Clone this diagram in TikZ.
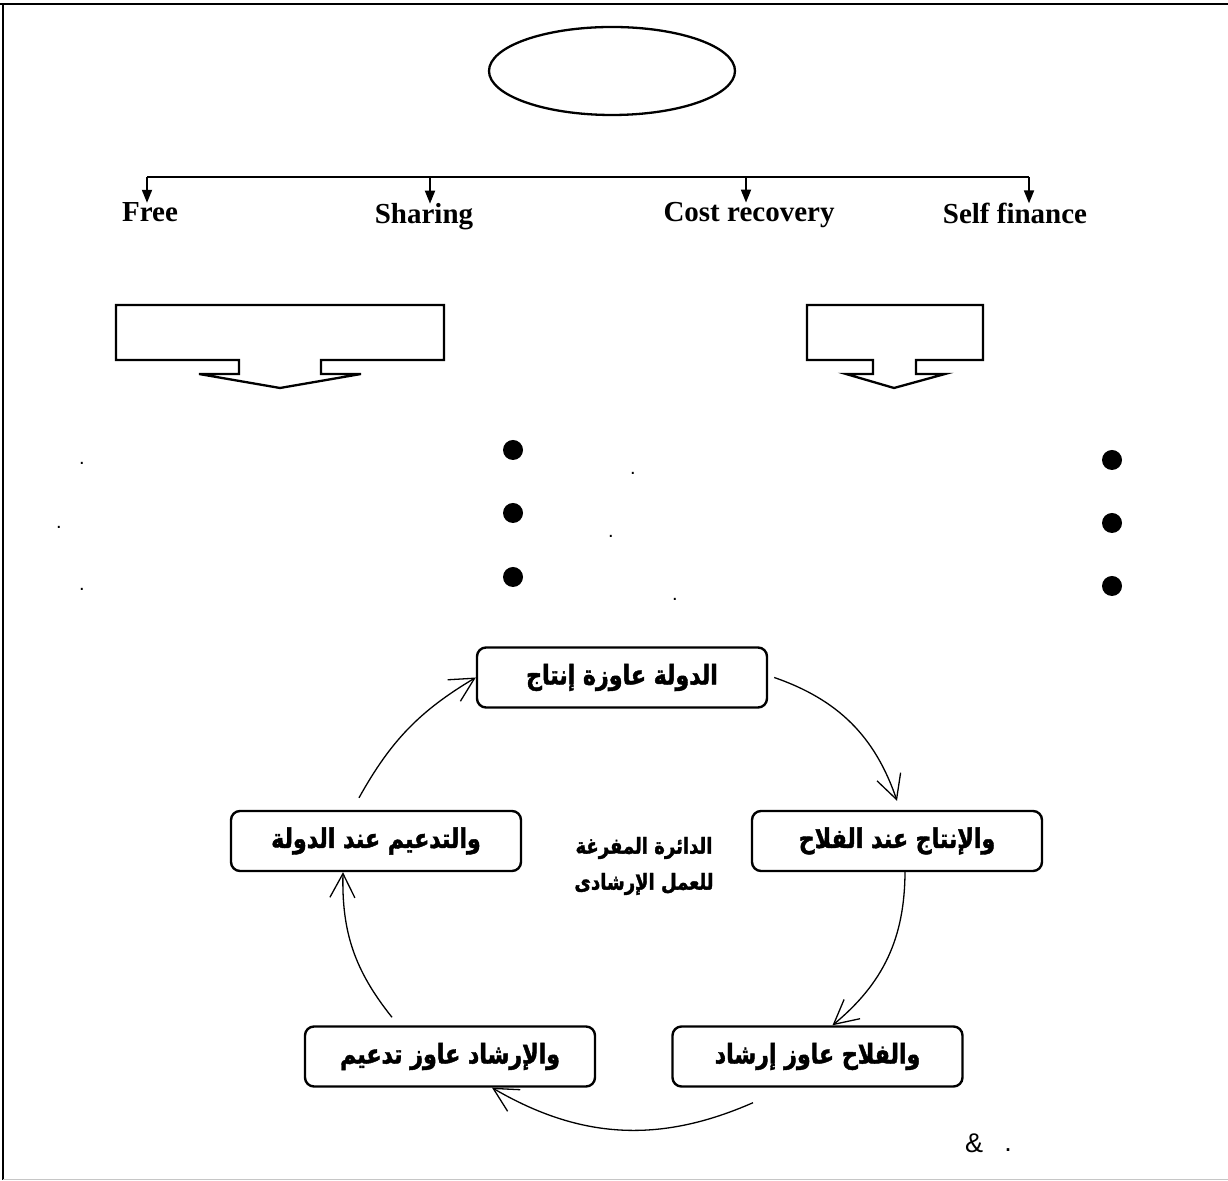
\documentclass[tikz,border=0pt]{standalone}
\usepackage{fontspec}
\setmainfont{Liberation Serif}
\setsansfont{Liberation Sans}
\newfontfamily\arabicfont[Script=Arabic, FakeStretch=0.82, BoldFeatures={FakeBold=1.6}]{DejaVu Sans}
\TeXXeTstate=1
\usetikzlibrary{arrows.meta,shapes.geometric}
\colorlet{frame edge}{black}
\colorlet{page edge}{gray!45}
\def\leftcallout{(116,875) -- (444,875) -- (444,820) -- (321,820) -- (321,806) -- (361,806)
  -- (280,792) -- (199,806) -- (239,806) -- (239,820) -- (116,820) -- cycle}
\def\rightcallout{(807,875) -- (983,875) -- (983,820) -- (916,820) -- (916,806) -- (945,806)
  -- (894,792) -- (846,806) -- (873,806) -- (873,820) -- (807,820) -- cycle}
\tikzset{outline/.style={draw=black, line width=2.3pt},
    branch/.style={-{Triangle[length=13pt,width=10pt]}, line width=1.8pt},
    scheme/.style={font=\bfseries\fontsize{29}{34}\selectfont, inner sep=0pt, anchor=base},
    stage/.style={draw, line width=2.4pt, rounded corners=9pt, minimum width=290pt,
      minimum height=60pt, inner sep=0pt, font=\arabicfont\bfseries\fontsize{27}{30}\selectfont},
    flow/.style={-{Straight Barb[length=24pt,width=25pt]}, line width=1.3pt},
    fullstop/.style={font=\sffamily\fontsize{20}{24}\selectfont, inner sep=0pt}}

\begin{document}
\begin{tikzpicture}[x=1pt,y=1pt]
    \useasboundingbox (0,0) rectangle (1228,1180);
    \draw[draw=frame edge, line width=2.5pt] (0,1176) -- (1228,1176);
    \draw[draw=frame edge, line width=2.5pt] (3,1176) -- (3,0);
    \draw[draw=page edge, line width=1pt] (3,1) -- (1228,1);
    \node[outline, ellipse, minimum width=246pt, minimum height=88pt] (goal) at (612,1109) {};
    \node[scheme] (free)    at (150,958)  {Free};
    \node[scheme] (sharing) at (424,956)  {Sharing};
    \node[scheme] (cost)    at (749,958)  {Cost recovery};
    \node[scheme] (self)    at (1015,956) {Self finance};
    \coordinate (bar free)    at (147,1003);
    \coordinate (bar sharing) at (430,1003);
    \coordinate (bar cost)    at (746,1003);
    \coordinate (bar self)    at (1029,1003);
    \draw[line width=1.8pt] (bar free) -- (bar self);
    \draw[branch] (bar free)    -- (bar free    |- free.north);
    \draw[branch] (bar sharing) -- (bar sharing |- sharing.north);
    \draw[branch] (bar cost)    -- (bar cost    |- cost.north);
    \draw[branch] (bar self)    -- (bar self    |- self.north);
    \draw[outline] \leftcallout;
    \draw[outline] \rightcallout;
    \fill (513,730) circle (10) (513,667) circle (10) (513,603) circle (10);
    \fill (1112,720) circle (10) (1112,657) circle (10) (1112,594) circle (10);
    \node[fullstop] (stop a) at (82,717) {.};
    \node[fullstop] (stop b) at (59,653) {.};
    \node[fullstop] (stop c) at (82,591) {.};
    \node[fullstop] (stop d) at (633,707) {.};
    \node[fullstop] (stop e) at (611,644) {.};
    \node[fullstop] (stop f) at (675,581) {.};
    \node[stage] (statewants)  at (622,502.5) {\beginR الدولة عاوزة إنتاج\endR};
    \node[stage] (production)  at (897,339)   {\beginR والإنتاج عند الفلاح\endR};
    \node[stage] (farmerwants) at (817.5,123.5) {\beginR والفلاح عاوز إرشاد\endR};
    \node[stage] (extension)   at (450,123.5) {\beginR والإرشاد عاوز تدعيم\endR};
    \node[stage] (support)     at (376,339)   {\beginR والتدعيم عند الدولة\endR};
    \node[align=center, font=\arabicfont\bfseries\fontsize{22}{36}\selectfont] (vicious) at (644,314)
      {\beginR الدائرة المفرغة\endR\\\beginR للعمل الإرشادى\endR};
    \draw[flow] ([xshift=6pt]statewants.east) to[bend left=26] ([yshift=9pt]production.north);
    \draw[flow] ([xshift=8pt]production.south) to[bend left=25] ([xshift=15pt]farmerwants.north);
    \draw[flow] ([shift={(-64.5pt,-15pt)}]farmerwants.south) to[bend left=27] ([xshift=42pt]extension.south);
    \draw[flow] ([shift={(-58pt,8pt)}]extension.north) to[bend left=20] ([xshift=-33pt]support.south);
    \draw[flow] ([shift={(-17pt,12pt)}]support.north) to[bend left=15] (statewants.west);
    \node[font=\sffamily\fontsize{27}{32}\selectfont, inner sep=0pt] (amp) at (974,37) {\&};
    \node[fullstop, font=\sffamily\fontsize{27}{32}\selectfont] (stop g) at (1008,30) {.};
\end{tikzpicture}
\end{document}
